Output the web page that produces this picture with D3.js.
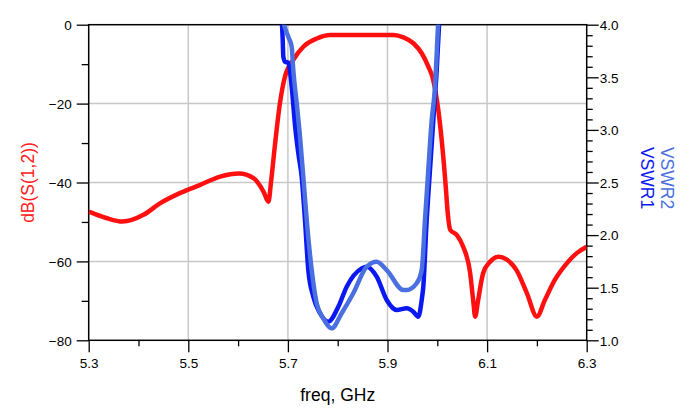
<!DOCTYPE html>
<html>
<head>
<meta charset="utf-8">
<script src="https://cdn.jsdelivr.net/npm/d3@7"></script>
<style>
  body { margin: 0; background: #fff; }
  text { font-family: "Liberation Sans", Arial, sans-serif; }
  .tick text { font-size: 13.5px; fill: #000; }
  .tick line { stroke: #000; stroke-width: 1.3; }
  .domain { display: none; }
</style>
</head>
<body>
<div id="chart"></div>
<script>
// dB(S(1,2)) trace
var freqS12 = [5.300, 5.335, 5.368, 5.410, 5.443, 5.483, 5.524, 5.564, 5.602, 5.631, 5.651, 5.661,
  5.666, 5.674, 5.684, 5.694, 5.711, 5.731, 5.758, 5.785, 5.850, 5.912, 5.932, 5.952, 5.969,
  5.982, 5.990, 6.002, 6.009, 6.017, 6.021, 6.026, 6.039, 6.052, 6.066, 6.072, 6.076, 6.082,
  6.092, 6.106, 6.123, 6.139, 6.159, 6.180, 6.200, 6.216, 6.236, 6.260, 6.280, 6.300];
var dbS12 = [-47.4, -49.0, -49.9, -48.2, -45.3, -42.7, -40.6, -38.5, -37.7, -38.9, -42.3, -44.9,
  -40.0, -30.5, -19.9, -13.2, -8.9, -5.6, -3.5, -2.6, -2.6, -2.6, -3.2, -4.7, -7.3,
  -10.6, -13.2, -21.6, -29.5, -41.1, -47.8, -52.0, -53.3, -56.3, -63.0, -69.8, -74.0, -69.8,
  -63.0, -60.1, -58.8, -59.5, -62.2, -68.1, -74.0, -69.8, -64.7, -60.5, -57.9, -56.3];

// VSWR1 trace
var freqV1 = [5.6860, 5.6876, 5.6896, 5.6908, 5.6942, 5.7008, 5.7076, 5.7143, 5.7209, 5.7277,
  5.7343, 5.7410, 5.7510, 5.7645, 5.7811, 5.8012, 5.8181, 5.8482, 5.8582, 5.8783, 5.8984,
  5.9185, 5.9386, 5.9518, 5.9618, 5.9687, 5.9719, 5.9787, 5.9853, 5.9920, 5.9988, 6.0040, 6.0060];
var vswr1 = [4.20, 4.05, 3.855, 3.696, 3.648, 3.639, 3.411, 3.045, 2.778, 2.555,
  2.144, 1.668, 1.414, 1.257, 1.177, 1.319, 1.510, 1.684, 1.700, 1.605, 1.383,
  1.288, 1.304, 1.272, 1.224, 1.383, 1.510, 2.144, 2.619, 3.094, 3.569, 4.045, 4.20];

// VSWR2 trace
var freqV2 = [5.6890, 5.6908, 5.7008, 5.7076, 5.7108, 5.7177, 5.7243, 5.7309, 5.7378, 5.7478,
  5.7578, 5.7711, 5.7880, 5.8080, 5.8313, 5.8582, 5.8783, 5.8984, 5.9317, 5.9386, 5.9586,
  5.9687, 5.9753, 5.9819, 5.9888, 5.9954, 5.9988, 6.0020, 6.0040];
var vswr2 = [4.20, 4.045, 3.886, 3.791, 3.569, 3.253, 2.935, 2.555, 2.144, 1.668,
  1.352, 1.209, 1.114, 1.257, 1.447, 1.700, 1.747, 1.668, 1.478, 1.478, 1.542,
  1.668, 2.144, 2.619, 3.094, 3.411, 3.728, 4.045, 4.20];

// tick labels
var xMajor = [5.3, 5.5, 5.7, 5.9, 6.1, 6.3];
var xMinor = [5.4, 5.6, 5.8, 6.0, 6.2];
var xGrid = [5.5, 5.7, 5.9, 6.1];
var dbMajor = [0, -20, -40, -60, -80];
var dbMinor = [-10, -30, -50, -70];
var dbGrid = [-20, -40, -60];
var vswrMajor = [1.0, 1.5, 2.0, 2.5, 3.0, 3.5, 4.0];
var vswrMinor = [1.1, 1.2, 1.3, 1.4, 1.6, 1.7, 1.8, 1.9, 2.1, 2.2, 2.3, 2.4, 2.6, 2.7, 2.8, 2.9,
  3.1, 3.2, 3.3, 3.4, 3.6, 3.7, 3.8, 3.9];

var width = 690,
    height = 416,
    margin = {top: 24.7, right: 103.3, bottom: 75.7, left: 88.7};
var w = width - margin.left - margin.right,
    h = height - margin.top - margin.bottom;

var svg = d3.select("#chart").append("svg")
    .attr("width", width)
    .attr("height", height);

var g = svg.append("g")
    .attr("transform", `translate(${margin.left},${margin.top})`);

var x = d3.scaleLinear().domain([5.3, 6.3]).range([0, w]);
var yL = d3.scaleLinear().domain([-80, 0]).range([h, 0]);
var yR = d3.scaleLinear().domain([1, 4]).range([h, 0]);

g.append("clipPath").attr("id", "clip")
  .append("rect").attr("width", w).attr("height", h);

// gridlines
g.selectAll(".vgrid").data(xGrid).enter().append("line")
  .attr("x1", d => x(d)).attr("x2", d => x(d))
  .attr("y1", 0).attr("y2", h)
  .attr("stroke", "#c8c8c8").attr("stroke-width", 1.5);
g.selectAll(".hgrid").data(dbGrid).enter().append("line")
  .attr("x1", 0).attr("x2", w)
  .attr("y1", d => yL(d)).attr("y2", d => yL(d))
  .attr("stroke", "#c8c8c8").attr("stroke-width", 1.5);

// axes
g.append("g").attr("transform", `translate(0,${h})`)
  .call(d3.axisBottom(x).tickValues(xMajor).tickSize(12).tickPadding(6).tickFormat(d3.format(".1f")));
g.append("g").attr("transform", `translate(0,${h})`)
  .call(d3.axisBottom(x).tickValues(xMinor).tickSize(6).tickFormat(""));

g.append("g")
  .call(d3.axisLeft(yL).tickValues(dbMajor).tickSize(12).tickPadding(5).tickFormat(d3.format("d")));
g.append("g")
  .call(d3.axisLeft(yL).tickValues(dbMinor).tickSize(7).tickFormat(""));

g.append("g").attr("transform", `translate(${w},0)`)
  .call(d3.axisRight(yR).tickValues(vswrMajor).tickSize(12).tickPadding(1).tickFormat(d3.format(".1f")));
g.append("g").attr("transform", `translate(${w},0)`)
  .call(d3.axisRight(yR).tickValues(vswrMinor).tickSize(6).tickFormat(""));

g.selectAll(".tick text").attr("dy", "0.36em");
g.selectAll(".tick text").filter(function() { return this.parentNode.parentNode.getAttribute("transform") === `translate(0,${h})`; })
  .attr("dy", "0.71em");

// frame
g.append("rect")
  .attr("width", w).attr("height", h)
  .attr("fill", "none").attr("stroke", "#000").attr("stroke-width", 1.5);

// traces
var plot = g.append("g").attr("clip-path", "url(#clip)");

var lineS12 = d3.line()
  .x((d, i) => x(freqS12[i]))
  .y(d => yL(d))
  .curve(d3.curveMonotoneX);
var lineV1 = d3.line()
  .x((d, i) => x(freqV1[i]))
  .y(d => yR(d))
  .curve(d3.curveMonotoneX);
var lineV2 = d3.line()
  .x((d, i) => x(freqV2[i]))
  .y(d => yR(d))
  .curve(d3.curveMonotoneX);

plot.append("path").datum(dbS12)
  .attr("d", lineS12)
  .attr("fill", "none").attr("stroke", "#ff1010").attr("stroke-width", 4.5)
  .attr("stroke-linejoin", "round");
plot.append("path").datum(vswr1)
  .attr("d", lineV1)
  .attr("fill", "none").attr("stroke", "#0a18f2").attr("stroke-width", 4.5)
  .attr("stroke-linejoin", "round");
plot.append("path").datum(vswr2)
  .attr("d", lineV2)
  .attr("fill", "none").attr("stroke", "#4a6fe0").attr("stroke-width", 4.5)
  .attr("stroke-linejoin", "round");

// titles
svg.append("text")
  .attr("x", margin.left + w / 2).attr("y", 401)
  .attr("text-anchor", "middle")
  .style("font-size", "17.5px")
  .text("freq, GHz");

svg.append("text")
  .attr("transform", `translate(34,${margin.top + h / 2}) rotate(-90)`)
  .attr("text-anchor", "middle")
  .style("font-size", "17.5px")
  .attr("fill", "#ff2020")
  .text("dB(S(1,2))");

svg.append("text")
  .attr("transform", `translate(661,${178}) rotate(90)`)
  .attr("text-anchor", "middle")
  .style("font-size", "17.5px")
  .attr("fill", "#4a6fe0")
  .text("VSWR2");
svg.append("text")
  .attr("transform", `translate(641,${178}) rotate(90)`)
  .attr("text-anchor", "middle")
  .style("font-size", "17.5px")
  .attr("fill", "#0a18f2")
  .text("VSWR1");
</script>
</body>
</html>
